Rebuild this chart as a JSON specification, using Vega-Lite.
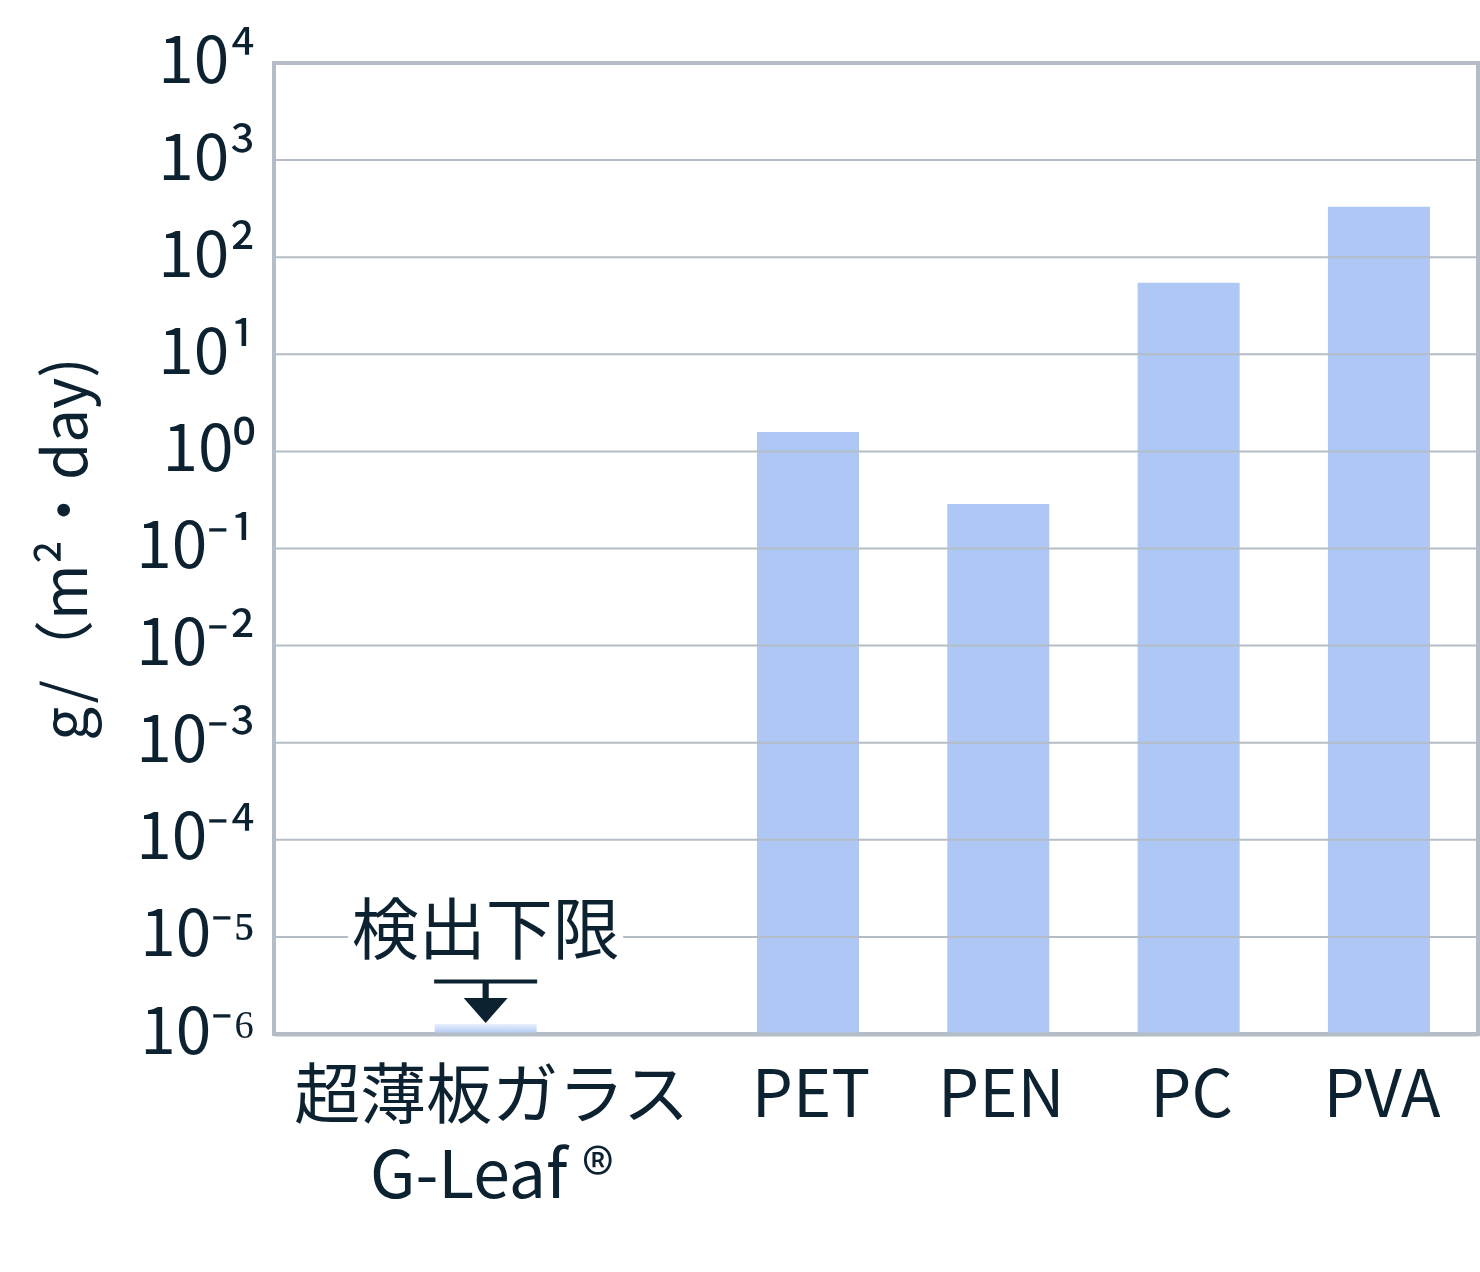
{
  "$schema": "https://vega.github.io/schema/vega-lite/v6.json",
  "width": 1204,
  "height": 971,
  "autosize": "none",
  "padding": {"left": 274, "top": 63, "right": 2, "bottom": 238},
  "background": "white",
  "data": {
    "values": [
      {"material": "超薄板ガラス G-Leaf ®", "value": 1.27e-6},
      {"material": "PET", "value": 1.58},
      {"material": "PEN", "value": 0.287},
      {"material": "PC", "value": 54.6},
      {"material": "PVA", "value": 331}
    ]
  },
  "encoding": {
    "x": {
      "field": "material",
      "type": "nominal",
      "sort": ["超薄板ガラス G-Leaf ®", "PET", "PEN", "PC", "PVA"],
      "scale": {"paddingInner": 0.464, "paddingOuter": 0.895, "align": 0.859},
      "axis": {
        "title": null,
        "labelAngle": 0,
        "labelPadding": 31,
        "labelLimit": 0,
        "labelOverlap": false,
        "labelLineHeight": 80,
        "labelFontSize": {"condition": {"test": "datum.value === '超薄板ガラス G-Leaf ®'", "value": 66}, "value": 65},
        "labelOffset": {"condition": {"test": "datum.value === '超薄板ガラス G-Leaf ®'", "value": -126}, "value": 3},
        "labelExpr": "datum.value === '超薄板ガラス G-Leaf ®' ? ['超薄板ガラス', 'G-Leaf ®'] : datum.label",
        "ticks": false,
        "grid": false,
        "domain": true,
        "domainColor": "#b4bdc5",
        "domainWidth": 4,
        "zindex": 1
      }
    },
    "y": {
      "field": "value",
      "type": "quantitative",
      "scale": {"type": "log", "domain": [1e-6, 1e4], "nice": false},
      "axis": {
        "title": "g/（m²・day)",
        "titleFontSize": 60,
        "titleFontWeight": "normal",
        "titlePadding": 36,
        "values": [1e-6, 1e-5, 1e-4, 1e-3, 1e-2, 1e-1, 1, 10, 100, 1000, 10000],
        "labelExpr": "'10' + (round(log(datum.value) / LN10) < 0 ? '⁻' : '') + ['⁰','¹','²','³','⁴','⁵','⁶','⁷','⁸','⁹'][abs(round(log(datum.value) / LN10))]",
        "labelFontSize": 64,
        "labelPadding": 19,
        "ticks": false,
        "grid": false,
        "domain": false
      }
    }
  },
  "layer": [
    {
      "transform": [{"filter": "datum.material !== '超薄板ガラス G-Leaf ®'"}],
      "mark": {"type": "bar", "color": "#aec7f5"},
      "encoding": {"y2": {"datum": 1e-6}}
    },
    {
      "data": {"values": [{"v": 1e-5}, {"v": 1e-4}, {"v": 1e-3}, {"v": 1e-2}, {"v": 1e-1}, {"v": 1}, {"v": 10}, {"v": 100}, {"v": 1000}]},
      "mark": {"type": "rule", "color": "#b4bdc5", "strokeWidth": 2},
      "encoding": {"x": null, "y": {"field": "v", "type": "quantitative"}}
    },
    {
      "transform": [{"filter": "datum.material === '超薄板ガラス G-Leaf ®'"}],
      "mark": {
        "type": "bar",
        "xOffset": -132,
        "color": {
          "gradient": "linear",
          "x1": 0, "y1": 0, "x2": 0, "y2": 1,
          "stops": [{"offset": 0, "color": "#e9effc"}, {"offset": 1, "color": "#aec7f5"}]
        }
      },
      "encoding": {"y2": {"datum": 1e-6}}
    },
    {
      "transform": [{"filter": "datum.material === '超薄板ガラス G-Leaf ®'"}],
      "mark": {"type": "bar", "xOffset": -132, "width": 275, "color": "white"},
      "encoding": {
        "y": {"datum": 8.5e-6, "type": "quantitative"},
        "y2": {"datum": 1.18e-5}
      }
    },
    {
      "transform": [{"filter": "datum.material === '超薄板ガラス G-Leaf ®'"}],
      "mark": {"type": "text", "xOffset": -132, "align": "center", "baseline": "middle", "fontSize": 67, "color": "#0c2231"},
      "encoding": {
        "y": {"datum": 1.07e-5, "type": "quantitative"},
        "text": {"value": "検出下限"}
      }
    },
    {
      "transform": [{"filter": "datum.material === '超薄板ガラス G-Leaf ®'"}],
      "mark": {"type": "tick", "xOffset": -132, "orient": "horizontal", "size": 103, "thickness": 4, "opacity": 1, "color": "#0c2231"},
      "encoding": {
        "y": {"datum": 3.47e-6, "type": "quantitative"}
      }
    },
    {
      "transform": [{"filter": "datum.material === '超薄板ガラス G-Leaf ®'"}],
      "mark": {
        "type": "point",
        "xOffset": -132,
        "shape": "M-0.14,-0.93L0.14,-0.93L0.14,-0.2L1,-0.2L0,0.93L-1,-0.2L-0.14,-0.2Z",
        "size": 1936,
        "filled": true,
        "opacity": 1,
        "strokeWidth": 0,
        "color": "#0c2231"
      },
      "encoding": {
        "y": {"datum": 2.11e-6, "type": "quantitative"}
      }
    }
  ],
  "config": {
    "font": "Noto Sans CJK JP",
    "view": {"stroke": "#b4bdc5", "strokeWidth": 4},
    "axis": {
      "labelColor": "#0c2231",
      "titleColor": "#0c2231",
      "labelFont": "Noto Sans CJK JP",
      "titleFont": "Noto Sans CJK JP"
    }
  }
}
